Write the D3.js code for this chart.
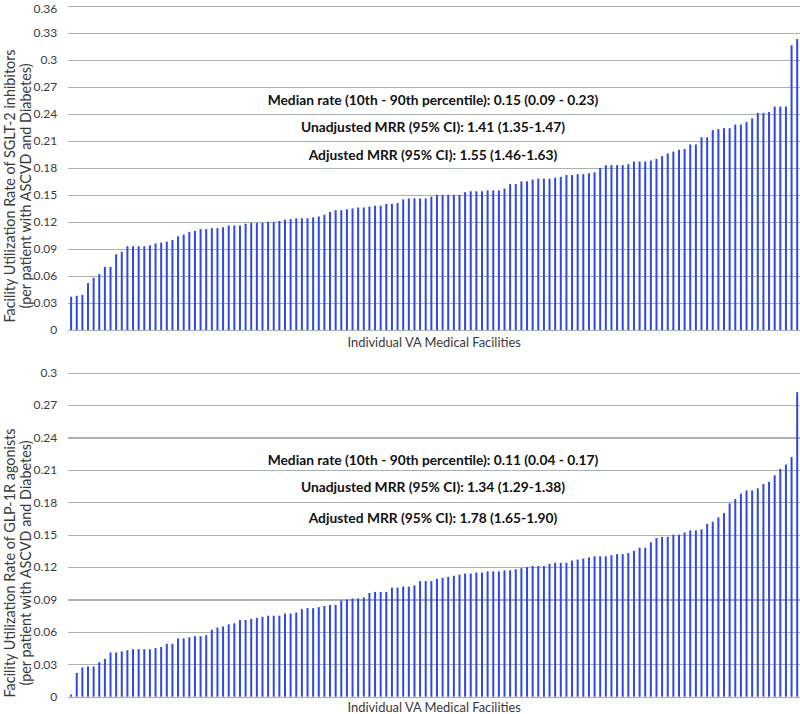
<!DOCTYPE html>
<html>
<head>
<meta charset="utf-8">
<script src="https://cdn.jsdelivr.net/npm/d3@7"></script>
<style>
  html, body { margin: 0; padding: 0; background: #ffffff; }
  svg { display: block; }
</style>
</head>
<body>
<svg id="chart" width="800" height="714"></svg>
<script>
// ---- DATA ----
const sgltRates = [
  0.037,0.038,0.039,0.052,0.058,0.062,0.070,0.070,0.084,0.087,
  0.093,0.093,0.093,0.093,0.094,0.096,0.097,0.098,0.100,0.104,
  0.106,0.109,0.110,0.112,0.112,0.113,0.113,0.114,0.116,0.116,
  0.116,0.118,0.119,0.119,0.119,0.120,0.120,0.121,
  0.1225,0.123,0.124,0.124,0.124,0.125,0.126,0.128,0.131,0.133,
  0.133,0.134,0.135,0.136,0.136,0.137,0.138,0.138,0.140,0.140,
  0.141,0.145,0.146,0.146,0.146,0.146,0.148,0.150,0.150,0.150,
  0.150,0.150,0.153,0.154,0.154,0.154,0.155,0.155,0.155,0.157,
  0.162,0.162,0.165,0.165,0.167,0.168,
  0.168,0.168,0.169,0.170,0.172,0.172,0.173,0.173,0.174,0.175,
  0.180,0.183,0.183,0.183,0.183,0.184,0.187,0.187,0.187,0.188,
  0.190,0.193,0.196,0.198,0.200,0.201,0.206,0.206,0.214,0.214,
  0.222,0.223,0.224,0.224,0.228,0.228,0.231,0.235,0.241,0.241,
  0.242,0.248,0.248,0.248,0.316,0.323
];
const glpRates = [
  0.002,0.022,0.027,0.028,0.028,0.032,0.035,0.041,0.041,0.042,
  0.043,0.044,0.044,0.044,0.044,0.045,0.046,0.049,0.049,0.054,
  0.054,0.055,0.056,0.056,0.057,0.062,0.064,0.065,0.067,0.068,
  0.071,0.071,0.072,0.073,0.074,0.075,0.075,0.075,
  0.077,0.077,0.078,0.081,0.082,0.082,0.083,0.084,0.085,0.085,
  0.089,0.090,0.091,0.091,0.092,0.096,0.097,0.097,0.097,0.101,
  0.101,0.102,0.102,0.103,0.107,0.107,0.107,0.109,0.110,0.111,
  0.112,0.113,0.114,0.114,0.115,0.115,0.116,0.116,0.116,0.117,
  0.117,0.118,0.119,0.120,0.121,0.121,
  0.121,0.123,0.124,0.124,0.124,0.126,0.127,0.128,0.129,0.130,
  0.130,0.130,0.131,0.132,0.132,0.133,0.135,0.138,0.138,0.143,
  0.147,0.148,0.148,0.150,0.150,0.152,0.154,0.154,0.155,0.160,
  0.162,0.166,0.170,0.179,0.183,0.188,0.191,0.191,0.193,0.197,
  0.199,0.205,0.211,0.215,0.222,0.282
];
const facilities = d3.range(1, sgltRates.length + 1).map(d => "Facility " + d);

const sgltTicks = ["0", "0.03", "0.06", "0.09", "0.12", "0.15", "0.18", "0.21", "0.24", "0.27", "0.3", "0.33", "0.36"];
const glpTicks = ["0", "0.03", "0.06", "0.09", "0.12", "0.15", "0.18", "0.21", "0.24", "0.27", "0.3"];

const xTitle = "Individual VA Medical Facilities";
const sgltYTitle = ["Facility Utilization Rate of SGLT-2 inhibitors", "(per patient with ASCVD and Diabetes)"];
const glpYTitle = ["Facility Utilization Rate of GLP-1R agonists", "(per patient with ASCVD and Diabetes)"];
const sgltNotes = [
  "Median rate (10th - 90th percentile): 0.15 (0.09 - 0.23)",
  "Unadjusted MRR (95% CI): 1.41 (1.35-1.47)",
  "Adjusted MRR (95% CI): 1.55 (1.46-1.63)"
];
const glpNotes = [
  "Median rate (10th - 90th percentile): 0.11 (0.04 - 0.17)",
  "Unadjusted MRR (95% CI): 1.34 (1.29-1.38)",
  "Adjusted MRR (95% CI): 1.78 (1.65-1.90)"
];

// ---- STYLE / LAYOUT ----
const FONT = "Lato, 'Open Sans', sans-serif";
const BAR = "#2f48e6";
const GRID = "#a9b2b2";
const TEXT = "#3a3a3a";

const svg = d3.select("#chart");

function panel(cfg) {
  const g = svg.append("g");
  const x = d3.scaleBand().domain(facilities).range([68.3, 800]).padding(0);
  const y = d3.scaleLinear().domain([0, cfg.max]).range([cfg.bottom, cfg.top]);

  // gridlines + tick labels
  const yAxis = d3.axisLeft(y)
    .tickValues(cfg.ticks.map(Number))
    .tickFormat((d, i) => cfg.ticks[i])
    .tickSize(-(800 - 68.3))
    .tickPadding(11);
  const ax = g.append("g").attr("transform", "translate(68.3,0)").call(yAxis);
  ax.select(".domain").remove();
  ax.selectAll(".tick line").attr("stroke", GRID).attr("stroke-width", 1.2)
    .attr("shape-rendering", "crispEdges");
  ax.selectAll(".tick text").attr("fill", TEXT)
    .style("font-family", FONT).style("font-size", "12px")
    .attr("dy", d => (y(d) < 10 ? "0.55em" : "0.32em"));

  // bars
  const bw = 2;
  g.append("g").selectAll("rect")
    .data(cfg.values)
    .join("rect")
    .attr("x", (d, i) => x(facilities[i]) + x.bandwidth() / 2 - bw / 2)
    .attr("width", bw)
    .attr("y", d => y(d))
    .attr("height", d => y(0) - y(d))
    .attr("fill", BAR);

  // axis titles
  const cx = (68.3 + 800) / 2;
  g.append("text")
    .attr("x", cx).attr("y", cfg.bottom + cfg.xTitleOffset)
    .attr("text-anchor", "middle")
    .attr("fill", TEXT)
    .style("font-family", FONT).style("font-size", "12.9px")
    .text(xTitle);

  cfg.ytitle.forEach((t, k) => {
    g.append("text")
      .attr("transform", `translate(${15 + k * 15.5},${cfg.ymid}) rotate(-90)`)
      .attr("text-anchor", "middle")
      .attr("fill", TEXT)
      .style("font-family", FONT).style("font-size", "14.4px")
      .text(t);
  });

  // annotations
  cfg.notes.forEach((t, k) => {
    g.append("text")
      .attr("x", 433).attr("y", cfg.noteY[k])
      .attr("text-anchor", "middle")
      .attr("dominant-baseline", "middle")
      .attr("fill", "#111")
      .style("font-family", FONT).style("font-size", "13.8px").style("font-weight", "bold")
      .text(t);
  });
}

panel({ values: sgltRates, max: 0.36, top: 5.7, bottom: 330, ticks: sgltTicks, xTitleOffset: 16.5,
        ytitle: sgltYTitle, ymid: 186, notes: sgltNotes, noteY: [101, 128.5, 156] });
panel({ values: glpRates, max: 0.3, top: 372.7, bottom: 696.7, ticks: glpTicks, xTitleOffset: 14.8,
        ytitle: glpYTitle, ymid: 563, notes: glpNotes, noteY: [461, 488.5, 519] });
</script>
</body>
</html>
